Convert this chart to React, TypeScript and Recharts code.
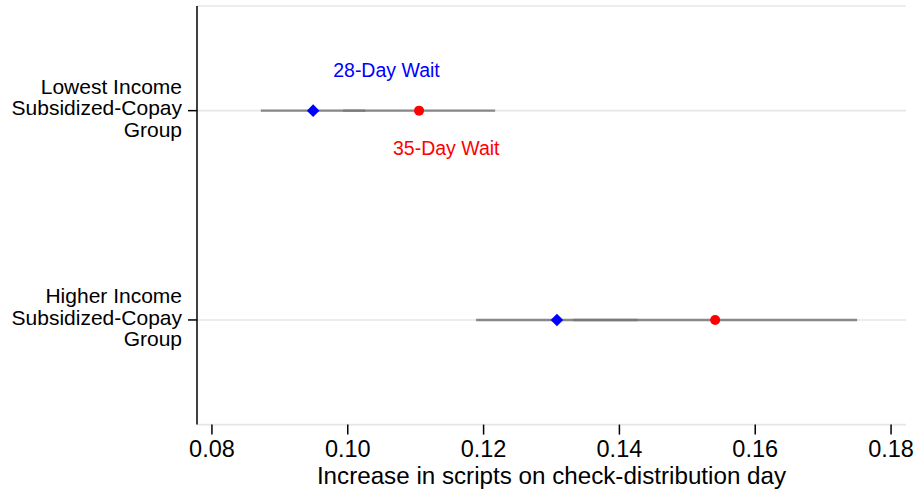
import React from 'react';
import {
  ScatterChart,
  Scatter,
  XAxis,
  YAxis,
  CartesianGrid,
  ErrorBar,
  ReferenceDot,
  ReferenceLine,
  Label,
} from 'recharts';

// ---- data ----
const groups = [
  'Lowest Income\nSubsidized-Copay\nGroup',
  'Higher Income\nSubsidized-Copay\nGroup',
];
const wait28Est = [0.0949, 0.1308];
const wait28Err = [0.0077, 0.0119];
const wait35Est = [0.1105, 0.1541];
const wait35Err = [0.0112, 0.0209];
const xTicks = [0.08, 0.1, 0.12, 0.14, 0.16, 0.18];
const seriesNames = ['28-Day Wait', '35-Day Wait'];
// annotation anchors (data coords) for the series labels
const labelX = [0.1057, 0.1145];

const FONT = '"Liberation Sans", Arial, Helvetica, sans-serif';
const BLUE = '#0000ff';
const RED = '#ff0000';

const data28 = groups.map((g, i) => ({ group: g, x: wait28Est[i], err: wait28Err[i] }));
const data35 = groups.map((g, i) => ({ group: g, x: wait35Est[i], err: wait35Err[i] }));

const Diamond = (p: any) => {
  const { cx, cy } = p;
  const r = 6.3;
  return (
    <polygon
      points={`${cx},${cy - r} ${cx + r},${cy} ${cx},${cy + r} ${cx - r},${cy}`}
      fill={BLUE}
    />
  );
};

const Dot = (p: any) => <circle cx={p.cx} cy={p.cy} r={5} fill={RED} />;

const YTick = (p: any) => {
  const lines = String(p.payload.value).split('\n');
  return (
    <text x={p.x} y={p.y} textAnchor="end" fontSize={21} fontFamily={FONT} fill="#000">
      {lines.map((l, i) => (
        <tspan key={i} x={p.x} y={p.y + (i - 1) * 21.5 + 4.6}>
          {l}
        </tspan>
      ))}
    </text>
  );
};

const XTitle = (p: any) => {
  const vb = p.viewBox;
  return (
    <text
      x={vb.x + vb.width / 2}
      y={vb.y + 59.7}
      textAnchor="middle"
      fontSize={24.2}
      fontFamily={FONT}
      fill="#000"
    >
      Increase in scripts on check-distribution day
    </text>
  );
};

const makeText = (text: string, color: string, dy: number) => (p: any) => (
  <text
    x={p.cx}
    y={p.cy + dy}
    textAnchor="middle"
    fontSize={19.5}
    fontFamily={FONT}
    fill={color}
  >
    {text}
  </text>
);

const barStyle = {
  stroke: '#777777',
  strokeWidth: 2.4,
  strokeOpacity: 0.86,
};

export default function App() {
  return (
    <div style={{ position: 'absolute', left: 0, top: 0, background: '#fff' }}>
      <ScatterChart
        width={919}
        height={493}
        margin={{ top: 6, right: 13, left: 0, bottom: 0 }}
      >
        <CartesianGrid vertical={false} stroke="#e6e6e6" strokeWidth={1.6} />
        <XAxis
          type="number"
          dataKey="x"
          domain={[0.0778, 0.1822]}
          allowDataOverflow
          ticks={xTicks}
          tickFormatter={(v: number) => v.toFixed(2)}
          axisLine={false}
          tickLine={{ stroke: '#000', strokeWidth: 1.5 }}
          tickSize={10}
          tickMargin={6}
          height={68.4}
          tick={{ fontSize: 23.5, fontFamily: FONT, fill: '#000' }}
        >
          <Label content={XTitle} />
        </XAxis>
        <YAxis
          type="category"
          dataKey="group"
          allowDuplicatedCategory={false}
          reversed
          width={197}
          axisLine={{ stroke: '#000', strokeWidth: 1.5 }}
          tickLine={{ stroke: '#000', strokeWidth: 1.5 }}
          tickSize={9}
          tickMargin={6}
          tick={YTick}
        />
        <YAxis yAxisId="num" type="number" domain={[0, 1]} hide />
        <ReferenceLine
          yAxisId="num"
          segment={[
            { x: xTicks[0], y: 0 },
            { x: xTicks[xTicks.length - 1], y: 0 },
          ]}
          stroke="#000"
          strokeWidth={1.5}
          ifOverflow="visible"
        />
        <Scatter
          name={seriesNames[0]}
          data={data28}
          shape={Diamond}
          isAnimationActive={false}
        >
          <ErrorBar
            dataKey="err"
            direction="x"
            width={0}
            {...barStyle}
            isAnimationActive={false}
          />
        </Scatter>
        <Scatter
          name={seriesNames[1]}
          data={data35}
          shape={Dot}
          isAnimationActive={false}
        >
          <ErrorBar
            dataKey="err"
            direction="x"
            width={0}
            {...barStyle}
            isAnimationActive={false}
          />
        </Scatter>
        <ReferenceDot
          x={labelX[0]}
          y={groups[0]}
          r={0}
          shape={makeText(seriesNames[0], BLUE, -34)}
        />
        <ReferenceDot
          x={labelX[1]}
          y={groups[0]}
          r={0}
          shape={makeText(seriesNames[1], RED, 44.3)}
        />
      </ScatterChart>
    </div>
  );
}
